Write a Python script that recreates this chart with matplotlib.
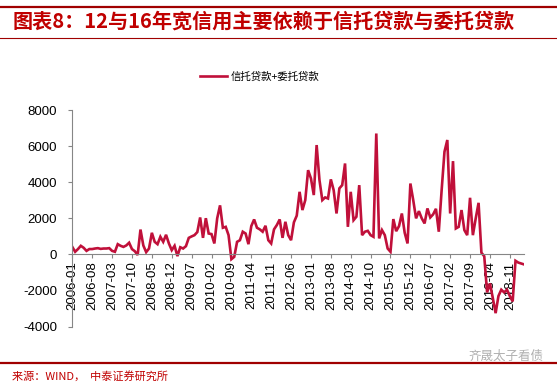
import matplotlib
matplotlib.use("Agg")
import matplotlib.pyplot as plt
from matplotlib.lines import Line2D
import pandas as pd

plt.rcParams['font.family'] = ['Liberation Sans', 'Noto Sans CJK SC', 'DejaVu Sans']
plt.rcParams['axes.unicode_minus'] = False

# 月度数据：信托贷款+委托贷款（亿元），2006-01 至 2019-04
v2006 = [420, 150, 300, 480, 370, 200, 300, 300, 330, 350, 310, 330]
v2007 = [330, 350, 200, 150, 570, 480, 420, 500, 650, 300, 180, -30]
v2008 = [1380, 500, 130, 330, 1200, 700, 570, 980, 700, 1090, 610, 240]
v2009 = [480, -90, 400, 330, 460, 920, 1000, 1070, 1240, 2050, 920, 2010]
v2010 = [1160, 1130, 610, 2000, 2720, 1480, 1530, 1070, -260, -130, 700, 790]
v2011 = [1260, 1160, 570, 1570, 1940, 1480, 1390, 1260, 1590, 790, 610, 1390]
v2012 = [1630, 1940, 920, 1810, 1070, 790, 1780, 2150, 3470, 2460, 3010, 4670]
v2013 = [4210, 3290, 6060, 4120, 3010, 3160, 3100, 4160, 3560, 2270, 3660, 3840]
v2014 = [5040, 1530, 3470, 1900, 2090, 3840, 1070, 1260, 1310, 1070, 980, 6700]
v2015 = [890, 1350, 1070, 330, 150, 1960, 1290, 1570, 2270, 1200, 610, 3930]
v2016 = [3010, 2000, 2400, 2000, 1720, 2550, 2050, 2220, 2530, 1260, 3560, 5690]
v2017 = [6340, 2270, 5170, 1440, 1530, 2460, 1350, 1070, 3140, 1070, 2000, 2860]
v2018 = [100, -100, -2100, -1600, -2400, -3250, -2300, -1950, -2100, -1950, -2300, -2600]
v2019 = [-350, -450, -500, -550]

values = (v2006 + v2007 + v2008 + v2009 + v2010 + v2011 + v2012 + v2013
          + v2014 + v2015 + v2016 + v2017 + v2018 + v2019)
months = [p.strftime('%Y-%m') for p in pd.period_range('2006-01', periods=len(values), freq='M')]
series_name = '信托贷款+委托贷款'
title = '图表8：12与16年宽信用主要依赖于信托贷款与委托贷款'
source = '来源：WIND，  中泰证券研究所'

red = '#C00000'
line_col = '#C0103A'
grey = '#868686'

fig = plt.figure(figsize=(5.57, 3.84), dpi=100)
ax = fig.add_axes([0.1298, 0.1492, 0.811, 0.5643])

x = list(range(len(values)))
ax.plot(x, values, color=line_col, lw=1.9, label=series_name, solid_joinstyle='miter')

# 横轴放在 0 处（要先设置，否则会重置刻度标签）
for s in ['top', 'right']:
    ax.spines[s].set_visible(False)
ax.spines['bottom'].set_position(('data', 0))
ax.spines['bottom'].set_color(grey)
ax.spines['left'].set_color(grey)

ax.set_xlim(0, len(values) - 1)
ax.set_ylim(-4000, 8000)
ax.set_yticks(range(-4000, 8001, 2000))
ax.set_xticks(x[::7])
ax.set_xticklabels(months[::7], rotation=90, fontsize=9.5)
ax.tick_params(axis='y', labelsize=9.5, length=3, color=grey, pad=8)
ax.tick_params(axis='x', length=3, color=grey, pad=2)

ax.legend(loc='center', bbox_to_anchor=(0.466, 0.8), bbox_transform=fig.transFigure,
          frameon=False, handlelength=2.6, handletextpad=0.4,
          prop={'family': ['Noto Sans CJK SC'], 'size': 7.5})

# 标题与分隔线
fig.add_artist(Line2D([0, 1], [1 - 7 / 384] * 2, transform=fig.transFigure, color='#A00000', lw=1.6))
fig.add_artist(Line2D([0, 1], [1 - 38 / 384] * 2, transform=fig.transFigure, color='#A00000', lw=0.8))
fig.text(0.022, 1 - 21 / 384, title, color=red, fontsize=14.5, fontweight='bold',
         va='center', ha='left', family=['Noto Sans CJK SC'])

fig.add_artist(Line2D([0, 1], [1 - 363 / 384] * 2, transform=fig.transFigure, color='#A00000', lw=1.6))
fig.text(0.022, 1 - 376 / 384, source, color=red, fontsize=8, va='center', ha='left',
         family=['Noto Sans CJK SC'])
fig.text(0.975, 1 - 356 / 384, '齐晟太子看债', color='#B0B0B0', fontsize=9, va='center', ha='right',
         family=['Noto Sans CJK SC'])

fig.savefig('out.png', dpi=100)
